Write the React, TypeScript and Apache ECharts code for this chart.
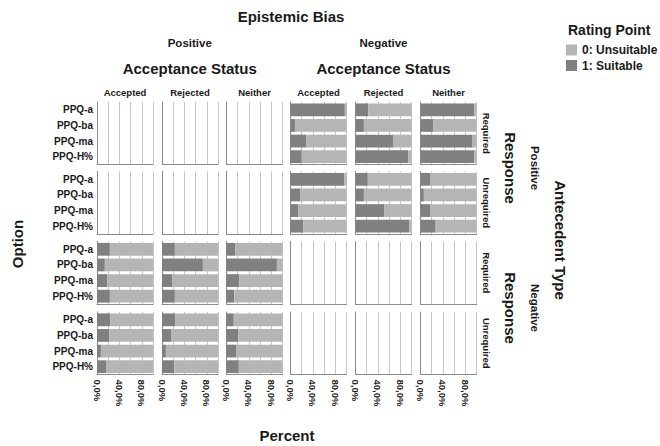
import React, { useEffect, useRef } from 'react';
import * as echarts from 'echarts';

// ---------- data ----------
const optionLabels = ['PPQ-a', 'PPQ-ba', 'PPQ-ma', 'PPQ-H%'];
const biasLevels = ['Positive', 'Negative'];
const statusLevels = ['Accepted', 'Rejected', 'Neither'];
const antecedentLevels = ['Positive', 'Negative'];
const responseLevels = ['Required', 'Unrequired'];
const ratingUnsuitable = '0: Unsuitable';
const ratingSuitable = '1: Suitable';
const xTickLabels = [0, 40, 80];

// Percent rated "1: Suitable" (per option); the rest is "0: Unsuitable"
// Antecedent Positive, Response Required, Bias Negative
const suitPosReqNegAccepted = [97, 8, 28, 20];
const suitPosReqNegRejected = [23, 15, 68, 94];
const suitPosReqNegNeither = [96, 23, 93, 96];
// Antecedent Positive, Response Unrequired, Bias Negative
const suitPosUnreqNegAccepted = [96, 18, 14, 23];
const suitPosUnreqNegRejected = [22, 15, 51, 96];
const suitPosUnreqNegNeither = [17, 6, 18, 27];
// Antecedent Negative, Response Required, Bias Positive
const suitNegReqPosAccepted = [23, 14, 18, 23];
const suitNegReqPosRejected = [23, 73, 18, 23];
const suitNegReqPosNeither = [16, 90, 23, 14];
// Antecedent Negative, Response Unrequired, Bias Positive
const suitNegUnreqPosAccepted = [24, 22, 7, 17];
const suitNegUnreqPosRejected = [24, 17, 7, 22];
const suitNegUnreqPosNeither = [13, 21, 17, 22];

// rows: antecedent x response ; columns: bias x status
const panelTable: (number[] | null)[][] = [
  [null, null, null, suitPosReqNegAccepted, suitPosReqNegRejected, suitPosReqNegNeither],
  [null, null, null, suitPosUnreqNegAccepted, suitPosUnreqNegRejected, suitPosUnreqNegNeither],
  [suitNegReqPosAccepted, suitNegReqPosRejected, suitNegReqPosNeither, null, null, null],
  [suitNegUnreqPosAccepted, suitNegUnreqPosRejected, suitNegUnreqPosNeither, null, null, null],
];

// ---------- layout ----------
const colLefts = [97, 162, 226.5, 290.5, 355.5, 420.5];
const rowTops = [102, 171.5, 241.5, 312];
const panelW = 56;
const panelH = 62.5;
const FONT = "'Liberation Sans', Arial, Helvetica, sans-serif";
const TXT = '#1a1a1a';
const DARK = '#808080';
const LIGHT = '#b5b5b5';

function txt(text: string, x: number, y: number, size: number, rotation = 0, align = 'center') {
  return {
    type: 'text',
    x,
    y,
    rotation,
    silent: true,
    style: {
      text,
      fill: TXT,
      fontSize: size,
      fontWeight: 'bold',
      fontFamily: FONT,
      textAlign: align,
      align,
      textVerticalAlign: 'middle',
      verticalAlign: 'middle',
    },
  };
}

function buildOption() {
  const grid: any[] = [];
  const xAxis: any[] = [];
  const yAxis: any[] = [];
  const series: any[] = [];
  let idx = 0;
  for (let r = 0; r < 4; r++) {
    for (let c = 0; c < 6; c++) {
      grid.push({ left: colLefts[c], top: rowTops[r], width: panelW, height: panelH, containLabel: false });
      xAxis.push({
        type: 'value',
        gridIndex: idx,
        min: 0,
        max: 100,
        interval: 20,
        axisLine: { show: true, lineStyle: { color: '#8a8a8a', width: 1 } },
        axisTick: { show: false },
        splitLine: { show: true, lineStyle: { color: '#c6c6c6', width: 1 } },
        axisLabel: {
          show: r === 3,
          rotate: -90,
          margin: 5,
          fontSize: 9.5,
          fontWeight: 'bold',
          fontFamily: FONT,
          color: TXT,
          formatter: (v: number) => (xTickLabels.indexOf(v) >= 0 ? `${v},0%` : ''),
        },
      });
      yAxis.push({
        type: 'category',
        gridIndex: idx,
        data: optionLabels,
        inverse: true,
        axisLine: { show: true, lineStyle: { color: '#8a8a8a', width: 1 } },
        axisTick: { show: false },
        splitLine: { show: false },
        axisLabel: {
          show: c === 0,
          margin: 4,
          fontSize: 10,
          fontWeight: 'bold',
          fontFamily: FONT,
          color: TXT,
        },
      });
      const vals = panelTable[r][c];
      if (vals) {
        series.push({
          type: 'bar',
          name: ratingSuitable,
          xAxisIndex: idx,
          yAxisIndex: idx,
          stack: 'p' + idx,
          barCategoryGap: '18%',
          data: vals,
          itemStyle: { color: DARK },
        });
        series.push({
          type: 'bar',
          name: ratingUnsuitable,
          xAxisIndex: idx,
          yAxisIndex: idx,
          stack: 'p' + idx,
          barCategoryGap: '18%',
          data: vals.map((v) => 100 - v),
          itemStyle: { color: LIGHT },
        });
      }
      idx++;
    }
  }

  const graphic: any[] = [];
  graphic.push(txt('Epistemic Bias', 291, 16, 15));
  const groupCenters = [
    (colLefts[0] + colLefts[2] + panelW) / 2,
    (colLefts[3] + colLefts[5] + panelW) / 2,
  ];
  biasLevels.forEach((b, i) => {
    graphic.push(txt(b, groupCenters[i], 43, 11.5));
    graphic.push(txt('Acceptance Status', groupCenters[i], 68, 15));
  });
  colLefts.forEach((l, c) => {
    graphic.push(txt(statusLevels[c % 3], l + panelW / 2, 92, 9.5));
  });
  const rowCenters = rowTops.map((t) => t + panelH / 2);
  rowCenters.forEach((y, r) => {
    graphic.push(txt(responseLevels[r % 2], 486, y, 9.5, -Math.PI / 2));
  });
  antecedentLevels.forEach((a, i) => {
    const y = (rowCenters[i * 2] + rowCenters[i * 2 + 1]) / 2;
    graphic.push(txt('Response', 510, y, 15, -Math.PI / 2));
    graphic.push(txt(a, 535, y, 11.5, -Math.PI / 2));
  });
  graphic.push(txt('Antecedent Type', 560, 240, 15, -Math.PI / 2));
  graphic.push(txt('Option', 17, 244, 15, Math.PI / 2));
  graphic.push(txt('Percent', 287, 435, 15));
  graphic.push(txt('Rating Point', 568, 30, 14, 0, 'left'));

  return {
    animation: false,
    backgroundColor: '#ffffff',
    grid,
    xAxis,
    yAxis,
    series,
    legend: {
      data: [ratingUnsuitable, ratingSuitable],
      orient: 'vertical',
      left: 566,
      top: 44,
      icon: 'rect',
      itemWidth: 11,
      itemHeight: 11,
      itemGap: 3.5,
      selectedMode: false,
      padding: 0,
      textStyle: { fontSize: 12, fontWeight: 'bold', fontFamily: FONT, color: TXT },
    },
    graphic,
  };
}

export default function App() {
  const ref = useRef<HTMLDivElement>(null);
  useEffect(() => {
    if (!ref.current) return;
    const chart = echarts.init(ref.current, undefined, { renderer: 'svg' });
    chart.setOption(buildOption() as any);
    return () => chart.dispose();
  }, []);
  return (
    <div
      ref={ref}
      style={{ position: 'fixed', left: 0, top: 0, width: 660, height: 446, background: '#fff' }}
    />
  );
}
